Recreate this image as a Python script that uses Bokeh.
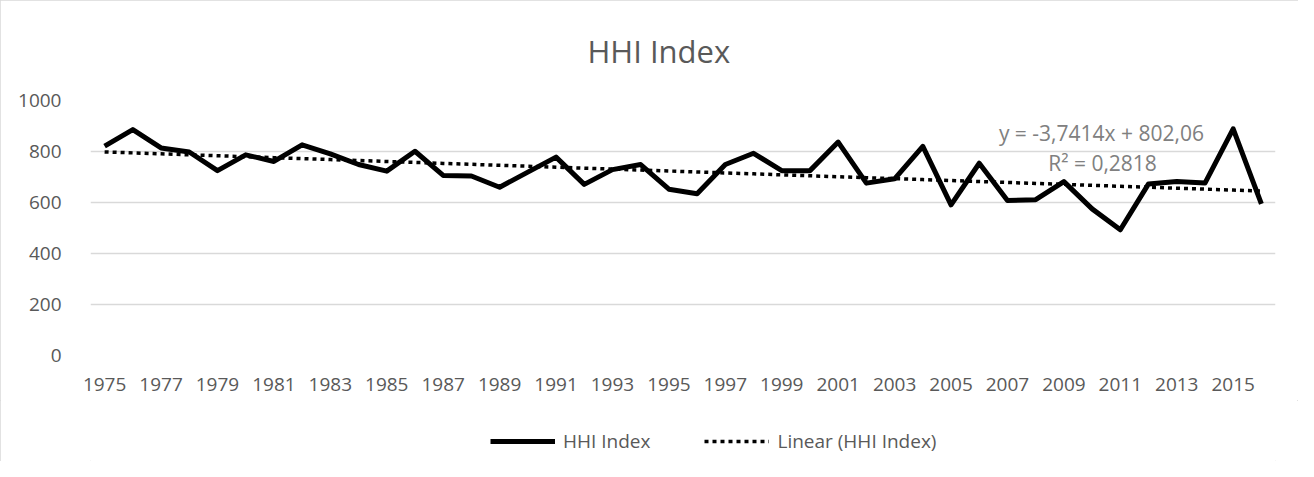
import numpy as np
from bokeh.plotting import figure
from bokeh.layouts import column
from bokeh.models import Range1d, FixedTicker, Label, Legend, LegendItem
from bokeh.embed import file_html
from bokeh.resources import INLINE

# ---- data ----
years = list(range(1975, 2017))
hhi = [821, 886, 814, 798, 725, 787, 761, 826, 791, 749, 723, 801, 706, 704,
       660, 719, 778, 671, 729, 749, 652, 634, 749, 793, 725, 725, 837, 676,
       693, 820, 591, 754, 608, 611, 682, 575, 493, 673, 682, 676, 889, 595]
tick_years = years[::2]
y_ticks = [0, 200, 400, 600, 800, 1000]
slope = -3.7414
intercept = 802.06
title_text = "HHI Index"
eq_text = "y = -3,7414x + 802,06"
r2_text = "R² = 0,2818"
series_name = "HHI Index"
trend_name = "Linear (HHI Index)"

FONT = "Open Sans"
GREY = "#595959"

idx = np.arange(1, len(years) + 1)
trend = slope * idx + intercept

# ---------------- main chart ----------------
p = figure(width=1298, height=400, output_backend="svg", toolbar_location=None,
           x_range=Range1d(years[0] - 0.5, years[-1] + 0.5),
           y_range=Range1d(0, 1000),
           min_border_left=90, min_border_right=23,
           min_border_top=100, min_border_bottom=45)
p.outline_line_color = None
p.background_fill_color = "white"
p.border_fill_color = "white"

# title
p.title.text = title_text
p.title.text_font = FONT
p.title.text_font_size = "31px"
p.title.text_font_style = "normal"
p.title.text_color = GREY
p.title.align = "left"
p.title.offset = 497
p.title.vertical_align = "middle"
p.title.standoff = 55

# grid
p.xgrid.grid_line_color = None
p.ygrid.grid_line_color = "#d9d9d9"
p.ygrid.grid_line_width = 1.3
p.ygrid.ticker = FixedTicker(ticks=y_ticks)

# axes
p.xaxis.ticker = FixedTicker(ticks=tick_years)
p.yaxis.ticker = FixedTicker(ticks=y_ticks)
for ax in (p.xaxis[0], p.yaxis[0]):
    ax.axis_line_color = None
    ax.major_tick_line_color = None
    ax.minor_tick_line_color = None
    ax.major_label_text_font = FONT
    ax.major_label_text_font_size = "19px"
    ax.major_label_text_color = GREY
p.yaxis.major_label_standoff = 23
p.xaxis.major_label_standoff = 16

# series
p.line(years, hhi, line_width=5, line_color="black", line_join="round")
p.line(years, list(trend), line_width=3.5, line_color="black", line_dash="4 4")

# trend equation
p.add_layout(Label(x=2010.33, y=871, text=eq_text, text_font=FONT,
                   text_font_size="21px", text_color="#808080",
                   text_align="center", text_baseline="middle"))
p.add_layout(Label(x=2010.37, y=753, text=r2_text, text_font=FONT,
                   text_font_size="21px", text_color="#808080",
                   text_align="center", text_baseline="middle"))

# ---------------- legend strip ----------------
lf = figure(width=1298, height=61, output_backend="svg", toolbar_location=None,
            x_axis_type=None, y_axis_type=None,
            x_range=Range1d(0, 1), y_range=Range1d(0, 1),
            min_border=0)
lf.outline_line_color = None
lf.xgrid.grid_line_color = None
lf.ygrid.grid_line_color = None
nan = [float("nan")]
l_main = lf.line(nan, nan, line_width=5, line_color="black")
l_trend = lf.line(nan, nan, line_width=3.5, line_color="black", line_dash="4 4")
legend = Legend(items=[LegendItem(label=series_name, renderers=[l_main]),
                       LegendItem(label=trend_name, renderers=[l_trend])],
                location=(400, 7), orientation="horizontal",
                glyph_width=65, glyph_height=20, label_standoff=8, spacing=54,
                padding=0, margin=0, border_line_color=None,
                background_fill_alpha=0, label_text_font=FONT,
                label_text_font_size="19px", label_text_color=GREY)
lf.add_layout(legend)

layout = column(p, lf, spacing=0)
layout.styles = {"outline": "1px solid #d9d9d9", "outline-offset": "-1px"}

open("out.html", "w").write(file_html(layout, INLINE))
